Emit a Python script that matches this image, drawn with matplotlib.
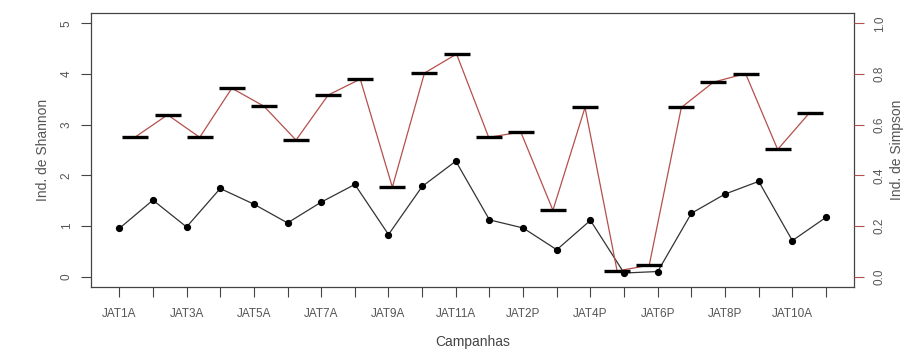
import numpy as np
import matplotlib.pyplot as plt

plt.rcParams['font.family'] = ['Liberation Sans', 'DejaVu Sans']

campanhas = ["JAT1A", "JAT2A", "JAT3A", "JAT4A", "JAT5A", "JAT6A", "JAT7A", "JAT8A",
             "JAT9A", "JAT10A", "JAT11A", "JAT1P", "JAT2P", "JAT3P", "JAT4P", "JAT5P",
             "JAT6P", "JAT7P", "JAT8P", "JAT9P", "JAT10A", "JAT11P"]
shannon = [0.95, 1.51, 0.98, 1.74, 1.43, 1.06, 1.47, 1.82, 0.83, 1.78, 2.28,
           1.12, 0.96, 0.53, 1.11, 0.07, 0.10, 1.25, 1.63, 1.88, 0.71, 1.17]
simpson = [0.552, 0.639, 0.550, 0.744, 0.673, 0.539, 0.717, 0.780, 0.353, 0.804, 0.879,
           0.550, 0.571, 0.262, 0.668, 0.022, 0.045, 0.668, 0.768, 0.802, 0.502, 0.648]

txt = '#555555'
red = '#b5504c'

fig = plt.figure(figsize=(9.09, 3.49), dpi=100)
rect = [0.1001, 0.1785, 0.8397, 0.7834]
ax = fig.add_axes(rect)
x = np.arange(len(campanhas))
n = len(campanhas)

ax.plot(x, shannon, color='#333333', lw=0.9, marker='o', ms=4.2, mfc='black', mec='black')
pad = 0.04 * (n - 1)
ax.set_xlim(-pad, n - 1 + pad)
ax.set_ylim(-0.2, 5.2)
ax.set_xticks(x)
ax.set_xticklabels([c if i % 2 == 0 else "" for i, c in enumerate(campanhas)])
ax.set_yticks(range(6))
ax.set_yticklabels([str(v) for v in range(6)], rotation=90, va='center')
ax.tick_params(axis='both', direction='out', length=7, width=0.8, colors='#444444',
               labelcolor=txt, labelsize=8.5)
ax.tick_params(axis='x', pad=8)
ax.tick_params(axis='y', pad=6)
ax.set_xlabel("Campanhas", color='#444444', fontsize=10, labelpad=11)
ax.set_ylabel("Ind. de Shannon", color=txt, fontsize=10, labelpad=8)
for s in ax.spines.values():
    s.set_color('#444444')
    s.set_linewidth(0.9)

# second plot on top, with its own x scale (par(new=TRUE) style)
ax2 = fig.add_axes(rect, frameon=False)
ax2.patch.set_visible(False)
xs = np.arange(len(simpson))
ax2.plot(xs, simpson, color=red, lw=0.9, zorder=2)
ax2.plot(xs, simpson, ls='none', marker='_', ms=19, mew=2.4, color='black', zorder=3)
ax2.set_xlim(-1.386, n - 1 + 1.386)
ax2.set_ylim(-0.04, 1.04)
ax2.set_xticks([])
ax2.yaxis.tick_right()
ax2.yaxis.set_label_position('right')
ax2.spines['right'].set_visible(True)
ax2.spines['right'].set_color(red)
ax2.spines['right'].set_linewidth(0.9)
ax2.spines['right'].set_bounds(0, 1)
ax2.set_yticks(np.arange(0, 1.01, 0.2))
ax2.set_yticklabels(["0.0", "0.2", "0.4", "0.6", "0.8", "1.0"], rotation=90, va='center')
ax2.tick_params(axis='y', direction='out', length=7, width=0.8, colors=red,
                labelcolor=txt, labelsize=8.5, pad=7)
ax2.set_ylabel("Ind. de Simpson", color=txt, fontsize=10, labelpad=3)

fig.savefig("out.png", dpi=100)
